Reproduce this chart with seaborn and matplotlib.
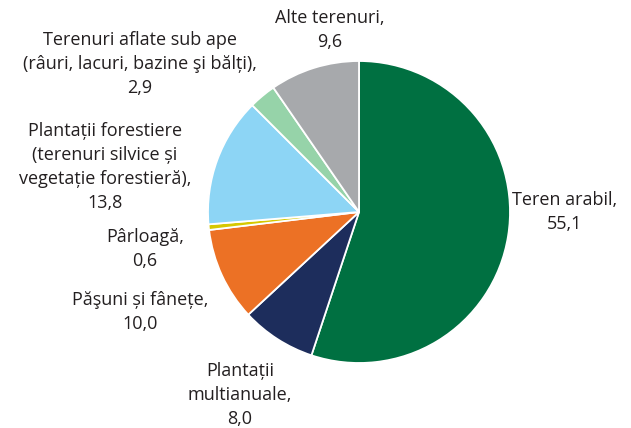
import matplotlib
matplotlib.use("Agg")
import matplotlib.pyplot as plt
import seaborn as sns

# structura fondului funciar (%)
categories = [
    "Teren arabil",
    "Plantații\nmultianuale",
    "Păşuni și fânețe",
    "Pârloagă",
    "Plantații forestiere\n(terenuri silvice și\nvegetație forestieră)",
    "Terenuri aflate sub ape\n(râuri, lacuri, bazine şi bălți)",
    "Alte terenuri",
]
values = [55.1, 8.0, 10.0, 0.6, 13.8, 2.9, 9.6]
colors = ["#007041", "#1d2d5c", "#ec7125", "#d6c800", "#8dd5f5", "#96d3a9", "#a7a9ac"]

# centrele etichetelor, in pixeli (x, y de sus)
label_pos = [(565, 212), (240, 395), (140, 312), (145, 249),
             (105, 167), (140, 64), (330, 30)]

sns.set_theme(style="white")
plt.rcParams['font.family'] = ['Open Sans', 'DejaVu Sans']

W, H = 631, 428
fig = plt.figure(figsize=(W / 100, H / 100), dpi=100)
cx, cy, r = 359, 212, 151
ax = fig.add_axes([(cx - r) / W, (H - cy - r) / H, 2 * r / W, 2 * r / H])
ax.pie(values, colors=colors, startangle=90, counterclock=False,
       wedgeprops=dict(edgecolor="white", linewidth=1.3))
ax.set_xlim(-1, 1)
ax.set_ylim(-1, 1)
ax.set_aspect("equal")
ax.axis("off")

for name, val, (px, py) in zip(categories, values, label_pos):
    txt = f"{name},\n{val:.1f}".replace(".", ",")
    fig.text(px / W, 1 - py / H, txt, ha="center", va="center",
             fontsize=13, color="#231f20", linespacing=1.42)

fig.savefig("out.png", dpi=100)
